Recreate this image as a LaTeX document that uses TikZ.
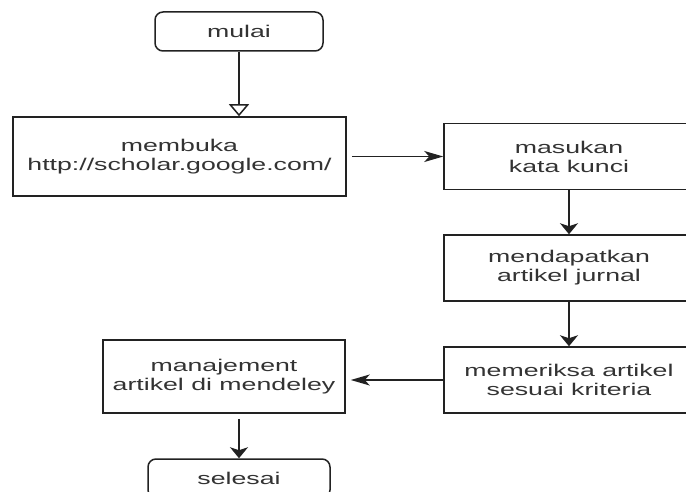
\documentclass[tikz,border=0pt]{standalone}
\usepackage{fontspec}
\setmainfont{Liberation Sans}[FakeStretch=1.57]
\usepackage{tikz}
\usetikzlibrary{arrows.meta,calc}
\usepackage{xcolor}
\definecolor{BoxLine}{HTML}{222222}
\definecolor{BoxText}{HTML}{333333}

\begin{document}
\begin{tikzpicture}[x=1pt,y=-1pt,
    box/.style={draw=BoxLine,line width=1.5pt,fill=white,text=BoxText,
      align=center,inner sep=0pt,font=\fontsize{17}{19}\selectfont},
    terminal/.style={box,rounded corners=8pt},
    flowv/.style={draw=BoxLine,line width=1.5pt,-{Stealth[length=11pt,width=18pt,inset=3pt]}},
    flowh/.style={draw=BoxLine,line width=1.5pt,-{Stealth[length=19pt,width=11pt,inset=5pt]}}]
    \useasboundingbox (0,0) rectangle (686,492);
    \clip (0,0) rectangle (686,492);
    % steps
    \node[terminal,minimum width=168pt,minimum height=39pt] (mulai) at (239,31.5) {mulai};
    \node[box,minimum width=333pt,minimum height=79pt] (membuka) at (179.5,156.5)
      {membuka\\http://scholar.google.com/};
    \node[box,minimum width=250pt,minimum height=66pt] (masukan) at (569,156.5)
      {masukan\\kata kunci};
    \node[box,minimum width=250pt,minimum height=66pt] (artikel) at (569,268)
      {mendapatkan\\artikel jurnal};
    \node[box,minimum width=250pt,minimum height=66pt] (periksa) at (569,380)
      {memeriksa artikel\\sesuai kriteria};
    \node[box,minimum width=242pt,minimum height=73pt] (mendeley) at (224,376.5)
      {manajement\\artikel di mendeley};
    \node[terminal,minimum width=182pt,minimum height=39pt] (selesai) at (239,478.5) {selesai};
    % arrows
    \draw[draw=BoxLine,line width=1.5pt,-{Triangle[open,length=12pt,width=20pt]}]
      (mulai) -- (mulai |- membuka.north);
    \draw[flowh] ($(membuka.east)+(5,0)$) -- (masukan);
    \draw[flowv] (masukan) -- (artikel);
    \draw[flowv] (artikel) -- (periksa);
    \draw[flowh] (periksa.west) -- ($(periksa.west -| mendeley.east)+(5,0)$);
    \draw[flowv] ($(selesai.north |- mendeley.south)+(0,5)$) -- (selesai);
\end{tikzpicture}
\end{document}
